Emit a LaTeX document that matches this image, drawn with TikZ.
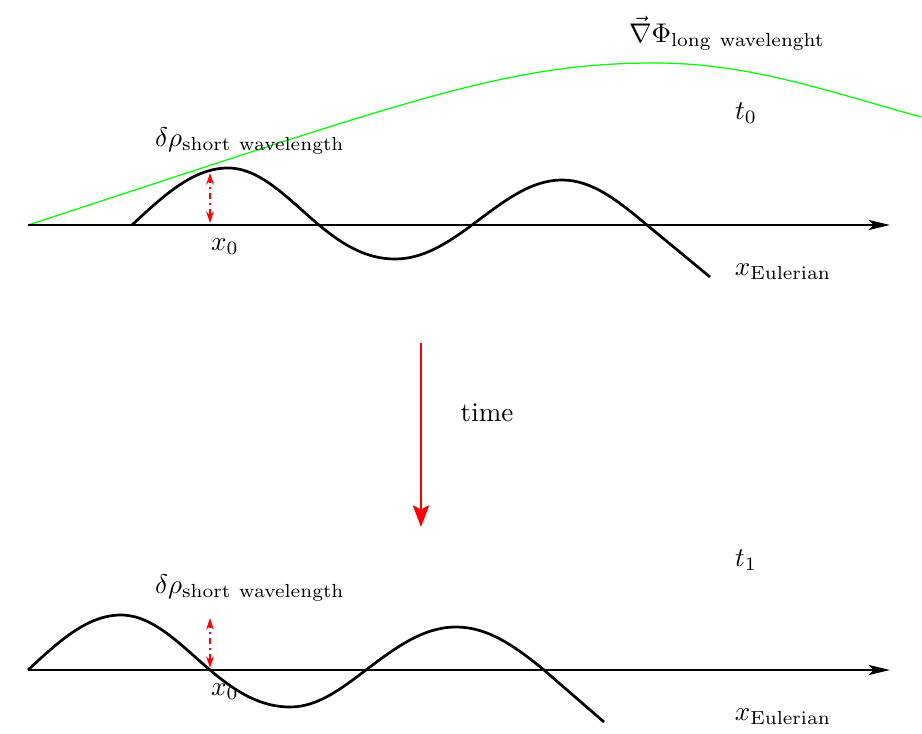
\documentclass[tikz,border=0pt]{standalone}
\usetikzlibrary{arrows.meta}
\begin{document}
\begin{tikzpicture}[x=0.37pt,y=-0.37pt,
  axisline/.style={line width=0.6pt,-{Stealth[length=8pt,width=3.8pt,inset=2pt]}},
  wave/.style={line width=1pt,line join=round},
  greencurve/.style={draw=green,line width=0.45pt},
  disp/.style={red,line width=0.55pt,dash pattern=on 2.5pt off 1.5pt on 0.6pt off 1.5pt,{Stealth[length=4.3pt,width=2.8pt]}-{Stealth[length=4.3pt,width=2.8pt]}},
  timearrow/.style={red,line width=1pt,-{Stealth[length=8pt,width=6pt,inset=1.5pt]}},
  lbl/.style={inner sep=0pt}]
\useasboundingbox (0,0) rectangle (922,734);
% ---- top panel ----
\coordinate (ts) at (28,225);
\coordinate (te) at (890,225);
\coordinate (gpeak) at (655,63);
\coordinate (gend) at (921,117);
\draw[greencurve] (ts) .. controls (408,101) and (505,63) .. (gpeak)
   .. controls (750,63) and (830,92) .. (gend);
\draw[axisline] (ts) -- (te);
\draw[wave] (132,225) .. controls (164,195.2) and (193.4,168) .. (228,168)
  .. controls (260.8,168) and (288.6,199.5) .. (319,225)
  .. controls (344.4,246.3) and (367.6,259) .. (395,259)
  .. controls (422.7,259) and (446.3,244) .. (472,225)
  .. controls (502,202.8) and (529.6,180) .. (562,180)
  .. controls (592.6,180) and (618.6,201.4) .. (647,225)
  -- (710,277);
\coordinate (tda) at (210,223);
\coordinate (tdb) at (210,173);
\draw[disp] (tda) -- (tdb);
\node[lbl] (gradphi) at (727,33) {$\vec{\nabla}\Phi_{\mathrm{long\ wavelenght}}$};
\node[lbl] (t0) at (746,113) {$t_0$};
\node[lbl] (drho0) at (250,141) {$\delta\rho_{\mathrm{short\ wavelength}}$};
\node[lbl] (x0a) at (225,247) {$x_0$};
\node[lbl] (xe0) at (783,272) {$x_{\mathrm{Eulerian}}$};
% ---- time arrow ----
\coordinate (tas) at (421,343);
\coordinate (tae) at (421,527);
\draw[timearrow] (tas) -- (tae);
\node[lbl] (time) at (487,413) {time};
% ---- bottom panel ----
\coordinate (bs) at (28,670);
\coordinate (be) at (890,670);
\draw[axisline] (bs) -- (be);
\draw[wave] (28,670) .. controls (59.1,641.1) and (87.5,615) .. (121,615)
  .. controls (153,615) and (180.3,644.7) .. (210,670)
  .. controls (236.7,692.7) and (261.2,707) .. (290,707)
  .. controls (317.4,707) and (340.6,689.3) .. (366,670)
  .. controls (396,647.2) and (423.6,627) .. (456,627)
  .. controls (487.7,627) and (514.6,645.9) .. (544,670)
  -- (604,722);
\coordinate (bda) at (210,668);
\coordinate (bdb) at (210,618);
\draw[disp] (bda) -- (bdb);
\node[lbl] (t1) at (746,560) {$t_1$};
\node[lbl] (drho1) at (250,588) {$\delta\rho_{\mathrm{short\ wavelength}}$};
\node[lbl] (x0b) at (225,692) {$x_0$};
\node[lbl] (xe1) at (783,717) {$x_{\mathrm{Eulerian}}$};
\end{tikzpicture}
\end{document}
